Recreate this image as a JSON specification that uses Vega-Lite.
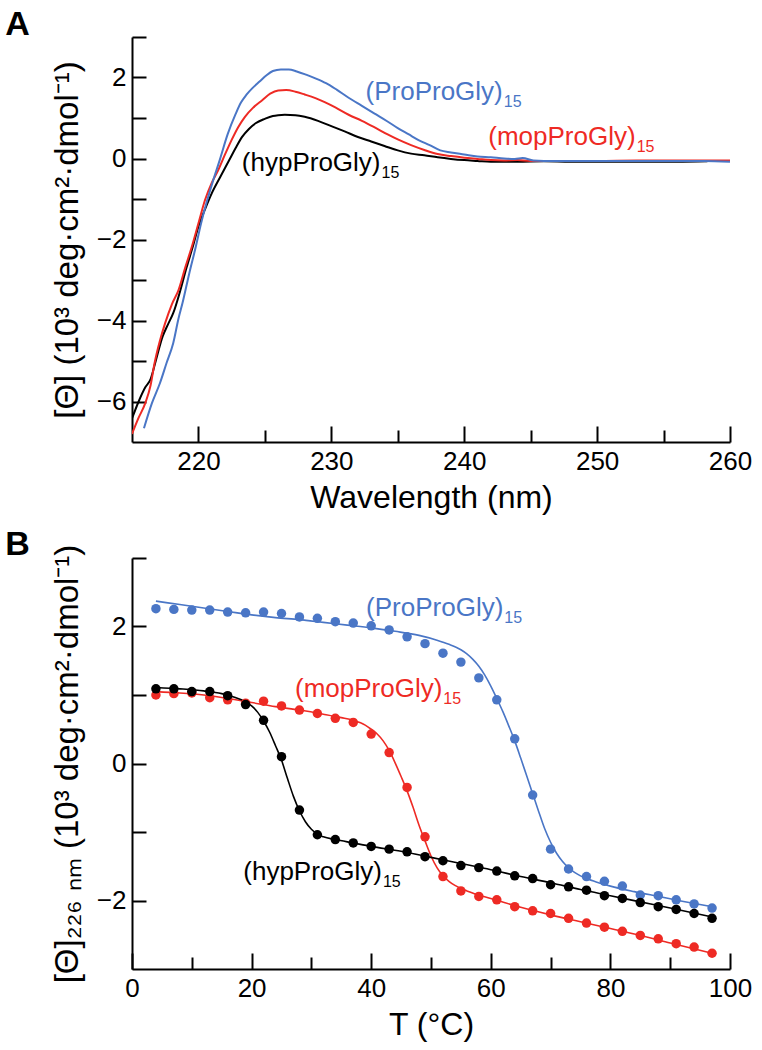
{
  "$schema": "https://vega.github.io/schema/vega-lite/v6.json",
  "padding": {"left": 5, "top": 8, "right": 5, "bottom": 5},
  "spacing": 15,
  "config": {
    "view": {"stroke": null},
    "font": "Liberation Sans",
    "axis": {
      "grid": false,
      "domainColor": "#000",
      "domainWidth": 2,
      "tickColor": "#000",
      "tickWidth": 2,
      "labelFont": "Liberation Sans",
      "labelFontSize": 26,
      "labelColor": "#000",
      "labelFlush": false,
      "labelOverlap": false,
      "format": "d",
      "titleFont": "Liberation Sans",
      "titleFontSize": 32,
      "titleFontWeight": "normal",
      "titleColor": "#000"
    },
    "axisX": {"labelPadding": 22},
    "axisY": {"labelPadding": 20, "titlePadding": 12, "titleFontSize": 33}
  },
  "datasets": {
    "spectra": [
      {"peptide": "hypProGly", "wl": 215.0, "theta": -6.42},
      {"peptide": "hypProGly", "wl": 215.5, "theta": -6.0},
      {"peptide": "hypProGly", "wl": 216.0, "theta": -5.65},
      {"peptide": "hypProGly", "wl": 216.4, "theta": -5.45},
      {"peptide": "hypProGly", "wl": 216.8, "theta": -4.98},
      {"peptide": "hypProGly", "wl": 217.3, "theta": -4.4},
      {"peptide": "hypProGly", "wl": 217.7, "theta": -4.1},
      {"peptide": "hypProGly", "wl": 218.1, "theta": -3.82},
      {"peptide": "hypProGly", "wl": 218.6, "theta": -3.3},
      {"peptide": "hypProGly", "wl": 219.1, "theta": -2.7},
      {"peptide": "hypProGly", "wl": 219.6, "theta": -2.15},
      {"peptide": "hypProGly", "wl": 220.0, "theta": -1.68},
      {"peptide": "hypProGly", "wl": 220.5, "theta": -1.25},
      {"peptide": "hypProGly", "wl": 221.0, "theta": -0.86},
      {"peptide": "hypProGly", "wl": 221.6, "theta": -0.48},
      {"peptide": "hypProGly", "wl": 222.3, "theta": -0.05},
      {"peptide": "hypProGly", "wl": 222.8, "theta": 0.26},
      {"peptide": "hypProGly", "wl": 223.3, "theta": 0.54},
      {"peptide": "hypProGly", "wl": 223.8, "theta": 0.73},
      {"peptide": "hypProGly", "wl": 224.3, "theta": 0.87},
      {"peptide": "hypProGly", "wl": 225.0, "theta": 0.98},
      {"peptide": "hypProGly", "wl": 225.6, "theta": 1.05},
      {"peptide": "hypProGly", "wl": 226.0, "theta": 1.07},
      {"peptide": "hypProGly", "wl": 226.5, "theta": 1.08},
      {"peptide": "hypProGly", "wl": 227.3, "theta": 1.07},
      {"peptide": "hypProGly", "wl": 228.0, "theta": 1.03},
      {"peptide": "hypProGly", "wl": 229.0, "theta": 0.93},
      {"peptide": "hypProGly", "wl": 230.0, "theta": 0.8},
      {"peptide": "hypProGly", "wl": 231.0, "theta": 0.67},
      {"peptide": "hypProGly", "wl": 232.0, "theta": 0.53},
      {"peptide": "hypProGly", "wl": 233.0, "theta": 0.42},
      {"peptide": "hypProGly", "wl": 234.0, "theta": 0.31},
      {"peptide": "hypProGly", "wl": 235.0, "theta": 0.2},
      {"peptide": "hypProGly", "wl": 236.0, "theta": 0.12},
      {"peptide": "hypProGly", "wl": 237.0, "theta": 0.08},
      {"peptide": "hypProGly", "wl": 238.0, "theta": 0.03},
      {"peptide": "hypProGly", "wl": 239.0, "theta": -0.01},
      {"peptide": "hypProGly", "wl": 240.0, "theta": -0.04},
      {"peptide": "hypProGly", "wl": 241.0, "theta": -0.06},
      {"peptide": "hypProGly", "wl": 242.0, "theta": -0.08},
      {"peptide": "hypProGly", "wl": 244.0, "theta": -0.08},
      {"peptide": "hypProGly", "wl": 246.0, "theta": -0.07},
      {"peptide": "hypProGly", "wl": 248.0, "theta": -0.08},
      {"peptide": "hypProGly", "wl": 250.0, "theta": -0.08},
      {"peptide": "hypProGly", "wl": 252.0, "theta": -0.08},
      {"peptide": "hypProGly", "wl": 254.0, "theta": -0.08},
      {"peptide": "hypProGly", "wl": 256.0, "theta": -0.08},
      {"peptide": "hypProGly", "wl": 258.3, "theta": -0.07},
      {"peptide": "mopProGly", "wl": 215.0, "theta": -6.8},
      {"peptide": "mopProGly", "wl": 215.5, "theta": -6.4},
      {"peptide": "mopProGly", "wl": 216.0, "theta": -6.04},
      {"peptide": "mopProGly", "wl": 216.4, "theta": -5.6},
      {"peptide": "mopProGly", "wl": 216.7, "theta": -5.05},
      {"peptide": "mopProGly", "wl": 217.1, "theta": -4.5},
      {"peptide": "mopProGly", "wl": 217.5, "theta": -4.06},
      {"peptide": "mopProGly", "wl": 218.0, "theta": -3.6},
      {"peptide": "mopProGly", "wl": 218.5, "theta": -3.25},
      {"peptide": "mopProGly", "wl": 219.0, "theta": -2.7},
      {"peptide": "mopProGly", "wl": 219.5, "theta": -2.18},
      {"peptide": "mopProGly", "wl": 220.0, "theta": -1.6},
      {"peptide": "mopProGly", "wl": 220.5, "theta": -1.02},
      {"peptide": "mopProGly", "wl": 221.0, "theta": -0.6},
      {"peptide": "mopProGly", "wl": 221.5, "theta": -0.28},
      {"peptide": "mopProGly", "wl": 222.0, "theta": 0.1},
      {"peptide": "mopProGly", "wl": 222.5, "theta": 0.46},
      {"peptide": "mopProGly", "wl": 223.0, "theta": 0.78},
      {"peptide": "mopProGly", "wl": 223.5, "theta": 1.03},
      {"peptide": "mopProGly", "wl": 224.1, "theta": 1.25},
      {"peptide": "mopProGly", "wl": 224.8, "theta": 1.44},
      {"peptide": "mopProGly", "wl": 225.4, "theta": 1.6},
      {"peptide": "mopProGly", "wl": 226.0, "theta": 1.68},
      {"peptide": "mopProGly", "wl": 226.6, "theta": 1.69},
      {"peptide": "mopProGly", "wl": 227.3, "theta": 1.65},
      {"peptide": "mopProGly", "wl": 228.0, "theta": 1.58},
      {"peptide": "mopProGly", "wl": 228.8, "theta": 1.49},
      {"peptide": "mopProGly", "wl": 229.5, "theta": 1.39},
      {"peptide": "mopProGly", "wl": 230.3, "theta": 1.26},
      {"peptide": "mopProGly", "wl": 231.3, "theta": 1.08},
      {"peptide": "mopProGly", "wl": 232.3, "theta": 0.93},
      {"peptide": "mopProGly", "wl": 233.3, "theta": 0.76},
      {"peptide": "mopProGly", "wl": 234.2, "theta": 0.6},
      {"peptide": "mopProGly", "wl": 235.0, "theta": 0.47},
      {"peptide": "mopProGly", "wl": 236.0, "theta": 0.33},
      {"peptide": "mopProGly", "wl": 237.0, "theta": 0.21},
      {"peptide": "mopProGly", "wl": 238.0, "theta": 0.11},
      {"peptide": "mopProGly", "wl": 239.0, "theta": 0.06},
      {"peptide": "mopProGly", "wl": 240.0, "theta": 0.02},
      {"peptide": "mopProGly", "wl": 241.0, "theta": -0.01},
      {"peptide": "mopProGly", "wl": 242.0, "theta": -0.04},
      {"peptide": "mopProGly", "wl": 243.0, "theta": -0.05},
      {"peptide": "mopProGly", "wl": 244.0, "theta": -0.04},
      {"peptide": "mopProGly", "wl": 245.0, "theta": -0.06},
      {"peptide": "mopProGly", "wl": 247.0, "theta": -0.06},
      {"peptide": "mopProGly", "wl": 250.0, "theta": -0.06},
      {"peptide": "mopProGly", "wl": 253.0, "theta": -0.05},
      {"peptide": "mopProGly", "wl": 256.0, "theta": -0.05},
      {"peptide": "mopProGly", "wl": 260.0, "theta": -0.05},
      {"peptide": "ProProGly", "wl": 215.9, "theta": -6.66},
      {"peptide": "ProProGly", "wl": 216.5, "theta": -6.04},
      {"peptide": "ProProGly", "wl": 217.1, "theta": -5.55},
      {"peptide": "ProProGly", "wl": 217.6, "theta": -5.05},
      {"peptide": "ProProGly", "wl": 218.1, "theta": -4.56},
      {"peptide": "ProProGly", "wl": 218.5, "theta": -3.95},
      {"peptide": "ProProGly", "wl": 218.8, "theta": -3.57},
      {"peptide": "ProProGly", "wl": 219.3, "theta": -2.85},
      {"peptide": "ProProGly", "wl": 219.8, "theta": -2.18},
      {"peptide": "ProProGly", "wl": 220.2, "theta": -1.6},
      {"peptide": "ProProGly", "wl": 220.6, "theta": -1.1},
      {"peptide": "ProProGly", "wl": 221.1, "theta": -0.55},
      {"peptide": "ProProGly", "wl": 221.6, "theta": -0.04},
      {"peptide": "ProProGly", "wl": 222.2, "theta": 0.6},
      {"peptide": "ProProGly", "wl": 222.8, "theta": 1.1},
      {"peptide": "ProProGly", "wl": 223.2, "theta": 1.38},
      {"peptide": "ProProGly", "wl": 223.6, "theta": 1.57},
      {"peptide": "ProProGly", "wl": 224.1, "theta": 1.75},
      {"peptide": "ProProGly", "wl": 224.6, "theta": 1.9},
      {"peptide": "ProProGly", "wl": 225.1, "theta": 2.05},
      {"peptide": "ProProGly", "wl": 225.6, "theta": 2.16},
      {"peptide": "ProProGly", "wl": 226.2, "theta": 2.2},
      {"peptide": "ProProGly", "wl": 226.8, "theta": 2.2},
      {"peptide": "ProProGly", "wl": 227.4, "theta": 2.15},
      {"peptide": "ProProGly", "wl": 228.1, "theta": 2.07},
      {"peptide": "ProProGly", "wl": 228.8, "theta": 1.98},
      {"peptide": "ProProGly", "wl": 229.6, "theta": 1.86},
      {"peptide": "ProProGly", "wl": 230.4, "theta": 1.7},
      {"peptide": "ProProGly", "wl": 231.3, "theta": 1.5},
      {"peptide": "ProProGly", "wl": 232.3, "theta": 1.3},
      {"peptide": "ProProGly", "wl": 233.3, "theta": 1.1},
      {"peptide": "ProProGly", "wl": 234.2, "theta": 0.92},
      {"peptide": "ProProGly", "wl": 235.0, "theta": 0.75},
      {"peptide": "ProProGly", "wl": 235.8, "theta": 0.6},
      {"peptide": "ProProGly", "wl": 236.6, "theta": 0.45},
      {"peptide": "ProProGly", "wl": 237.4, "theta": 0.33},
      {"peptide": "ProProGly", "wl": 238.2, "theta": 0.2},
      {"peptide": "ProProGly", "wl": 239.0, "theta": 0.15},
      {"peptide": "ProProGly", "wl": 240.0, "theta": 0.1},
      {"peptide": "ProProGly", "wl": 241.0, "theta": 0.05},
      {"peptide": "ProProGly", "wl": 242.0, "theta": 0.03},
      {"peptide": "ProProGly", "wl": 243.0, "theta": 0.0},
      {"peptide": "ProProGly", "wl": 243.8, "theta": -0.01},
      {"peptide": "ProProGly", "wl": 244.4, "theta": 0.01},
      {"peptide": "ProProGly", "wl": 245.2, "theta": -0.05},
      {"peptide": "ProProGly", "wl": 246.0, "theta": -0.06},
      {"peptide": "ProProGly", "wl": 248.0, "theta": -0.06},
      {"peptide": "ProProGly", "wl": 250.0, "theta": -0.06},
      {"peptide": "ProProGly", "wl": 252.0, "theta": -0.06},
      {"peptide": "ProProGly", "wl": 254.0, "theta": -0.06},
      {"peptide": "ProProGly", "wl": 256.0, "theta": -0.06},
      {"peptide": "ProProGly", "wl": 258.0, "theta": -0.06},
      {"peptide": "ProProGly", "wl": 260.0, "theta": -0.08}
    ],
    "fits": [
      {"peptide": "ProProGly", "T": 4, "theta": 2.37},
      {"peptide": "ProProGly", "T": 8, "theta": 2.32},
      {"peptide": "ProProGly", "T": 12, "theta": 2.27},
      {"peptide": "ProProGly", "T": 16, "theta": 2.22},
      {"peptide": "ProProGly", "T": 20, "theta": 2.17},
      {"peptide": "ProProGly", "T": 24, "theta": 2.13},
      {"peptide": "ProProGly", "T": 28, "theta": 2.1},
      {"peptide": "ProProGly", "T": 32, "theta": 2.06},
      {"peptide": "ProProGly", "T": 36, "theta": 2.02},
      {"peptide": "ProProGly", "T": 40, "theta": 1.98},
      {"peptide": "ProProGly", "T": 44, "theta": 1.93},
      {"peptide": "ProProGly", "T": 48, "theta": 1.87},
      {"peptide": "ProProGly", "T": 51, "theta": 1.8},
      {"peptide": "ProProGly", "T": 53, "theta": 1.74},
      {"peptide": "ProProGly", "T": 55, "theta": 1.66},
      {"peptide": "ProProGly", "T": 56, "theta": 1.6},
      {"peptide": "ProProGly", "T": 57, "theta": 1.52},
      {"peptide": "ProProGly", "T": 58, "theta": 1.42},
      {"peptide": "ProProGly", "T": 59, "theta": 1.29},
      {"peptide": "ProProGly", "T": 60, "theta": 1.13},
      {"peptide": "ProProGly", "T": 61, "theta": 0.95},
      {"peptide": "ProProGly", "T": 62, "theta": 0.76},
      {"peptide": "ProProGly", "T": 63, "theta": 0.55},
      {"peptide": "ProProGly", "T": 64, "theta": 0.33},
      {"peptide": "ProProGly", "T": 65, "theta": 0.08},
      {"peptide": "ProProGly", "T": 66, "theta": -0.18},
      {"peptide": "ProProGly", "T": 67, "theta": -0.44},
      {"peptide": "ProProGly", "T": 68, "theta": -0.7},
      {"peptide": "ProProGly", "T": 69, "theta": -0.95},
      {"peptide": "ProProGly", "T": 70, "theta": -1.15},
      {"peptide": "ProProGly", "T": 71, "theta": -1.31},
      {"peptide": "ProProGly", "T": 72, "theta": -1.43},
      {"peptide": "ProProGly", "T": 73, "theta": -1.52},
      {"peptide": "ProProGly", "T": 74, "theta": -1.59},
      {"peptide": "ProProGly", "T": 75, "theta": -1.64},
      {"peptide": "ProProGly", "T": 76, "theta": -1.68},
      {"peptide": "ProProGly", "T": 78, "theta": -1.74},
      {"peptide": "ProProGly", "T": 80, "theta": -1.79},
      {"peptide": "ProProGly", "T": 84, "theta": -1.87},
      {"peptide": "ProProGly", "T": 88, "theta": -1.94},
      {"peptide": "ProProGly", "T": 92, "theta": -2.01},
      {"peptide": "ProProGly", "T": 97, "theta": -2.09},
      {"peptide": "mopProGly", "T": 4, "theta": 1.05},
      {"peptide": "mopProGly", "T": 8, "theta": 1.03},
      {"peptide": "mopProGly", "T": 12, "theta": 1.0},
      {"peptide": "mopProGly", "T": 16, "theta": 0.95},
      {"peptide": "mopProGly", "T": 20, "theta": 0.89},
      {"peptide": "mopProGly", "T": 24, "theta": 0.83},
      {"peptide": "mopProGly", "T": 28, "theta": 0.78},
      {"peptide": "mopProGly", "T": 32, "theta": 0.72},
      {"peptide": "mopProGly", "T": 35, "theta": 0.67},
      {"peptide": "mopProGly", "T": 37, "theta": 0.63},
      {"peptide": "mopProGly", "T": 39, "theta": 0.56},
      {"peptide": "mopProGly", "T": 40, "theta": 0.5},
      {"peptide": "mopProGly", "T": 41, "theta": 0.43},
      {"peptide": "mopProGly", "T": 42, "theta": 0.33},
      {"peptide": "mopProGly", "T": 43, "theta": 0.19},
      {"peptide": "mopProGly", "T": 44, "theta": 0.01},
      {"peptide": "mopProGly", "T": 45, "theta": -0.19},
      {"peptide": "mopProGly", "T": 46, "theta": -0.4},
      {"peptide": "mopProGly", "T": 47, "theta": -0.64},
      {"peptide": "mopProGly", "T": 48, "theta": -0.9},
      {"peptide": "mopProGly", "T": 49, "theta": -1.13},
      {"peptide": "mopProGly", "T": 50, "theta": -1.35},
      {"peptide": "mopProGly", "T": 51, "theta": -1.52},
      {"peptide": "mopProGly", "T": 52, "theta": -1.64},
      {"peptide": "mopProGly", "T": 53, "theta": -1.72},
      {"peptide": "mopProGly", "T": 54, "theta": -1.78},
      {"peptide": "mopProGly", "T": 56, "theta": -1.86},
      {"peptide": "mopProGly", "T": 58, "theta": -1.92},
      {"peptide": "mopProGly", "T": 60, "theta": -1.97},
      {"peptide": "mopProGly", "T": 65, "theta": -2.1},
      {"peptide": "mopProGly", "T": 70, "theta": -2.21},
      {"peptide": "mopProGly", "T": 75, "theta": -2.31},
      {"peptide": "mopProGly", "T": 80, "theta": -2.41},
      {"peptide": "mopProGly", "T": 85, "theta": -2.51},
      {"peptide": "mopProGly", "T": 90, "theta": -2.62},
      {"peptide": "mopProGly", "T": 97, "theta": -2.77},
      {"peptide": "hypProGly", "T": 4, "theta": 1.11},
      {"peptide": "hypProGly", "T": 8, "theta": 1.09},
      {"peptide": "hypProGly", "T": 12, "theta": 1.06},
      {"peptide": "hypProGly", "T": 15, "theta": 1.02},
      {"peptide": "hypProGly", "T": 17, "theta": 0.97},
      {"peptide": "hypProGly", "T": 19, "theta": 0.9},
      {"peptide": "hypProGly", "T": 20, "theta": 0.84},
      {"peptide": "hypProGly", "T": 21, "theta": 0.75},
      {"peptide": "hypProGly", "T": 22, "theta": 0.62},
      {"peptide": "hypProGly", "T": 23, "theta": 0.46},
      {"peptide": "hypProGly", "T": 24, "theta": 0.26},
      {"peptide": "hypProGly", "T": 25, "theta": 0.05},
      {"peptide": "hypProGly", "T": 26, "theta": -0.22},
      {"peptide": "hypProGly", "T": 27, "theta": -0.48},
      {"peptide": "hypProGly", "T": 28, "theta": -0.69},
      {"peptide": "hypProGly", "T": 29, "theta": -0.85},
      {"peptide": "hypProGly", "T": 30, "theta": -0.96},
      {"peptide": "hypProGly", "T": 31, "theta": -1.03},
      {"peptide": "hypProGly", "T": 32, "theta": -1.07},
      {"peptide": "hypProGly", "T": 34, "theta": -1.11},
      {"peptide": "hypProGly", "T": 37, "theta": -1.16},
      {"peptide": "hypProGly", "T": 40, "theta": -1.21},
      {"peptide": "hypProGly", "T": 45, "theta": -1.28},
      {"peptide": "hypProGly", "T": 50, "theta": -1.37},
      {"peptide": "hypProGly", "T": 55, "theta": -1.46},
      {"peptide": "hypProGly", "T": 60, "theta": -1.55},
      {"peptide": "hypProGly", "T": 65, "theta": -1.65},
      {"peptide": "hypProGly", "T": 70, "theta": -1.74},
      {"peptide": "hypProGly", "T": 75, "theta": -1.84},
      {"peptide": "hypProGly", "T": 80, "theta": -1.93},
      {"peptide": "hypProGly", "T": 85, "theta": -2.02},
      {"peptide": "hypProGly", "T": 90, "theta": -2.11},
      {"peptide": "hypProGly", "T": 97, "theta": -2.24}
    ],
    "points": [
      {"peptide": "ProProGly", "T": 4, "theta": 2.26},
      {"peptide": "ProProGly", "T": 7, "theta": 2.25},
      {"peptide": "ProProGly", "T": 10, "theta": 2.24},
      {"peptide": "ProProGly", "T": 13, "theta": 2.24},
      {"peptide": "ProProGly", "T": 16, "theta": 2.21},
      {"peptide": "ProProGly", "T": 19, "theta": 2.2},
      {"peptide": "ProProGly", "T": 22, "theta": 2.21},
      {"peptide": "ProProGly", "T": 25, "theta": 2.19},
      {"peptide": "ProProGly", "T": 28, "theta": 2.14},
      {"peptide": "ProProGly", "T": 31, "theta": 2.12},
      {"peptide": "ProProGly", "T": 34, "theta": 2.07},
      {"peptide": "ProProGly", "T": 37, "theta": 2.05},
      {"peptide": "ProProGly", "T": 40, "theta": 2.01},
      {"peptide": "ProProGly", "T": 43, "theta": 1.95},
      {"peptide": "ProProGly", "T": 46, "theta": 1.85},
      {"peptide": "ProProGly", "T": 49, "theta": 1.75},
      {"peptide": "ProProGly", "T": 52, "theta": 1.61},
      {"peptide": "ProProGly", "T": 55, "theta": 1.48},
      {"peptide": "ProProGly", "T": 58, "theta": 1.25},
      {"peptide": "ProProGly", "T": 61, "theta": 0.93},
      {"peptide": "ProProGly", "T": 64, "theta": 0.36},
      {"peptide": "ProProGly", "T": 67, "theta": -0.46},
      {"peptide": "ProProGly", "T": 70, "theta": -1.25},
      {"peptide": "ProProGly", "T": 73, "theta": -1.54},
      {"peptide": "ProProGly", "T": 76, "theta": -1.65},
      {"peptide": "ProProGly", "T": 79, "theta": -1.72},
      {"peptide": "ProProGly", "T": 82, "theta": -1.79},
      {"peptide": "ProProGly", "T": 85, "theta": -1.92},
      {"peptide": "ProProGly", "T": 88, "theta": -1.93},
      {"peptide": "ProProGly", "T": 91, "theta": -1.99},
      {"peptide": "ProProGly", "T": 94, "theta": -2.05},
      {"peptide": "ProProGly", "T": 97, "theta": -2.11},
      {"peptide": "mopProGly", "T": 4, "theta": 1.0},
      {"peptide": "mopProGly", "T": 7, "theta": 1.02},
      {"peptide": "mopProGly", "T": 10, "theta": 1.03},
      {"peptide": "mopProGly", "T": 13, "theta": 0.96},
      {"peptide": "mopProGly", "T": 16, "theta": 0.93},
      {"peptide": "mopProGly", "T": 19, "theta": 0.88},
      {"peptide": "mopProGly", "T": 22, "theta": 0.91},
      {"peptide": "mopProGly", "T": 25, "theta": 0.84},
      {"peptide": "mopProGly", "T": 28, "theta": 0.78},
      {"peptide": "mopProGly", "T": 31, "theta": 0.73},
      {"peptide": "mopProGly", "T": 34, "theta": 0.66},
      {"peptide": "mopProGly", "T": 37, "theta": 0.6},
      {"peptide": "mopProGly", "T": 40, "theta": 0.43},
      {"peptide": "mopProGly", "T": 43, "theta": 0.16},
      {"peptide": "mopProGly", "T": 46, "theta": -0.35},
      {"peptide": "mopProGly", "T": 49, "theta": -1.07},
      {"peptide": "mopProGly", "T": 52, "theta": -1.65},
      {"peptide": "mopProGly", "T": 55, "theta": -1.86},
      {"peptide": "mopProGly", "T": 58, "theta": -1.94},
      {"peptide": "mopProGly", "T": 61, "theta": -1.99},
      {"peptide": "mopProGly", "T": 64, "theta": -2.09},
      {"peptide": "mopProGly", "T": 67, "theta": -2.15},
      {"peptide": "mopProGly", "T": 70, "theta": -2.19},
      {"peptide": "mopProGly", "T": 73, "theta": -2.26},
      {"peptide": "mopProGly", "T": 76, "theta": -2.33},
      {"peptide": "mopProGly", "T": 79, "theta": -2.39},
      {"peptide": "mopProGly", "T": 82, "theta": -2.45},
      {"peptide": "mopProGly", "T": 85, "theta": -2.51},
      {"peptide": "mopProGly", "T": 88, "theta": -2.56},
      {"peptide": "mopProGly", "T": 91, "theta": -2.63},
      {"peptide": "mopProGly", "T": 94, "theta": -2.68},
      {"peptide": "mopProGly", "T": 97, "theta": -2.77},
      {"peptide": "hypProGly", "T": 4, "theta": 1.09},
      {"peptide": "hypProGly", "T": 7, "theta": 1.09},
      {"peptide": "hypProGly", "T": 10, "theta": 1.05},
      {"peptide": "hypProGly", "T": 13, "theta": 1.05},
      {"peptide": "hypProGly", "T": 16, "theta": 0.99},
      {"peptide": "hypProGly", "T": 19, "theta": 0.86},
      {"peptide": "hypProGly", "T": 22, "theta": 0.63},
      {"peptide": "hypProGly", "T": 25, "theta": 0.1},
      {"peptide": "hypProGly", "T": 28, "theta": -0.68},
      {"peptide": "hypProGly", "T": 31, "theta": -1.04},
      {"peptide": "hypProGly", "T": 34, "theta": -1.11},
      {"peptide": "hypProGly", "T": 37, "theta": -1.16},
      {"peptide": "hypProGly", "T": 40, "theta": -1.21},
      {"peptide": "hypProGly", "T": 43, "theta": -1.25},
      {"peptide": "hypProGly", "T": 46, "theta": -1.29},
      {"peptide": "hypProGly", "T": 49, "theta": -1.36},
      {"peptide": "hypProGly", "T": 52, "theta": -1.42},
      {"peptide": "hypProGly", "T": 55, "theta": -1.49},
      {"peptide": "hypProGly", "T": 58, "theta": -1.52},
      {"peptide": "hypProGly", "T": 61, "theta": -1.57},
      {"peptide": "hypProGly", "T": 64, "theta": -1.64},
      {"peptide": "hypProGly", "T": 67, "theta": -1.68},
      {"peptide": "hypProGly", "T": 70, "theta": -1.77},
      {"peptide": "hypProGly", "T": 73, "theta": -1.8},
      {"peptide": "hypProGly", "T": 76, "theta": -1.85},
      {"peptide": "hypProGly", "T": 79, "theta": -1.93},
      {"peptide": "hypProGly", "T": 82, "theta": -1.97},
      {"peptide": "hypProGly", "T": 85, "theta": -2.03},
      {"peptide": "hypProGly", "T": 88, "theta": -2.09},
      {"peptide": "hypProGly", "T": 91, "theta": -2.13},
      {"peptide": "hypProGly", "T": 94, "theta": -2.19},
      {"peptide": "hypProGly", "T": 97, "theta": -2.26}
    ],
    "labelsA": [
      {"peptide": "ProProGly", "x": 242.9, "y": 1.45, "text": "(ProProGly)", "sub": "15"},
      {"peptide": "mopProGly", "x": 252.9, "y": 0.33, "text": "(mopProGly)", "sub": "15"},
      {"peptide": "hypProGly", "x": 233.7, "y": -0.32, "text": "(hypProGly)", "sub": "15"}
    ],
    "labelsB": [
      {"peptide": "ProProGly", "x": 62.1, "y": 2.16, "text": "(ProProGly)", "sub": "15"},
      {"peptide": "mopProGly", "x": 51.9, "y": 0.97, "text": "(mopProGly)", "sub": "15"},
      {"peptide": "hypProGly", "x": 41.8, "y": -1.7, "text": "(hypProGly)", "sub": "15"}
    ]
  },
  "vconcat": [
    {
      "width": 598,
      "height": 405,
      "title": {"text": "A", "anchor": "start", "frame": "bounds", "fontSize": 34, "fontWeight": "bold", "font": "Liberation Sans", "color": "#000", "dx": -46, "dy": 20, "offset": 2},
      "layer": [
        {
          "data": {"name": "spectra"},
          "mark": {"type": "line", "strokeWidth": 2, "clip": true, "interpolate": "monotone"},
          "encoding": {
            "x": {"field": "wl", "type": "quantitative", "scale": {"domain": [215, 260], "nice": false, "zero": false},
              "axis": {"title": "Wavelength (nm)", "values": [220, 225, 230, 235, 240, 245, 250, 255, 260],
                "labelExpr": "datum.value % 10 === 0 ? datum.label : ''",
                "tickSize": {"condition": {"test": "datum.value % 10 === 0", "value": -16}, "value": -12}}},
            "y": {"field": "theta", "type": "quantitative", "scale": {"domain": [-7, 3], "nice": false, "zero": false},
              "axis": {"title": "[Θ] (10³ deg·cm²·dmol⁻¹)", "values": [-6, -5, -4, -3, -2, -1, 0, 1, 2, 3],
                "labelExpr": "datum.value % 2 === 0 ? datum.label : ''", "tickSize": -14}},
            "color": {"field": "peptide", "type": "nominal", "scale": {"domain": ["ProProGly", "mopProGly", "hypProGly"], "range": ["#4a76c6", "#ee2a24", "#000000"]}, "legend": null},
            "order": {"field": "wl", "type": "quantitative"}
          }
        },
        {
          "data": {"name": "labelsA"},
          "mark": {"type": "text", "align": "right", "baseline": "alphabetic", "fontSize": 26, "font": "Liberation Sans"},
          "encoding": {
            "x": {"field": "x", "type": "quantitative"},
            "y": {"field": "y", "type": "quantitative"},
            "text": {"field": "text"},
            "color": {"field": "peptide", "type": "nominal", "legend": null}
          }
        },
        {
          "data": {"name": "labelsA"},
          "mark": {"type": "text", "align": "left", "baseline": "alphabetic", "fontSize": 16, "font": "Liberation Sans", "dx": 1, "dy": 7},
          "encoding": {
            "x": {"field": "x", "type": "quantitative"},
            "y": {"field": "y", "type": "quantitative"},
            "text": {"field": "sub"},
            "color": {"field": "peptide", "type": "nominal", "legend": null}
          }
        }
      ]
    },
    {
      "width": 598,
      "height": 411,
      "title": {"text": "B", "anchor": "start", "frame": "bounds", "fontSize": 34, "fontWeight": "bold", "font": "Liberation Sans", "color": "#000", "dx": -46, "dy": 20, "offset": 2},
      "layer": [
        {
          "data": {"name": "fits"},
          "mark": {"type": "line", "strokeWidth": 1.6, "clip": true, "interpolate": "monotone"},
          "encoding": {
            "x": {"field": "T", "type": "quantitative", "scale": {"domain": [0, 100], "nice": false},
              "axis": {"title": "T (°C)", "values": [0, 10, 20, 30, 40, 50, 60, 70, 80, 90, 100],
                "labelExpr": "datum.value % 20 === 0 ? datum.label : ''",
                "tickSize": {"condition": {"test": "datum.value % 20 === 0", "value": -16}, "value": -12}}},
            "y": {"field": "theta", "type": "quantitative", "scale": {"domain": [-3, 3], "nice": false, "zero": false},
              "axis": {"title": "[Θ]₂₂₆ ₙₘ (10³ deg·cm²·dmol⁻¹)", "values": [-2, -1, 0, 1, 2, 3],
                "labelExpr": "datum.value % 2 === 0 ? datum.label : ''", "tickSize": -14}},
            "color": {"field": "peptide", "type": "nominal", "legend": null},
            "order": {"field": "T", "type": "quantitative"}
          }
        },
        {
          "data": {"name": "points"},
          "mark": {"type": "circle", "size": 90, "opacity": 1},
          "encoding": {
            "x": {"field": "T", "type": "quantitative"},
            "y": {"field": "theta", "type": "quantitative"},
            "color": {"field": "peptide", "type": "nominal", "legend": null}
          }
        },
        {
          "data": {"name": "labelsB"},
          "mark": {"type": "text", "align": "right", "baseline": "alphabetic", "fontSize": 26, "font": "Liberation Sans"},
          "encoding": {
            "x": {"field": "x", "type": "quantitative"},
            "y": {"field": "y", "type": "quantitative"},
            "text": {"field": "text"},
            "color": {"field": "peptide", "type": "nominal", "legend": null}
          }
        },
        {
          "data": {"name": "labelsB"},
          "mark": {"type": "text", "align": "left", "baseline": "alphabetic", "fontSize": 16, "font": "Liberation Sans", "dx": 1, "dy": 7},
          "encoding": {
            "x": {"field": "x", "type": "quantitative"},
            "y": {"field": "y", "type": "quantitative"},
            "text": {"field": "sub"},
            "color": {"field": "peptide", "type": "nominal", "legend": null}
          }
        }
      ]
    }
  ]
}
